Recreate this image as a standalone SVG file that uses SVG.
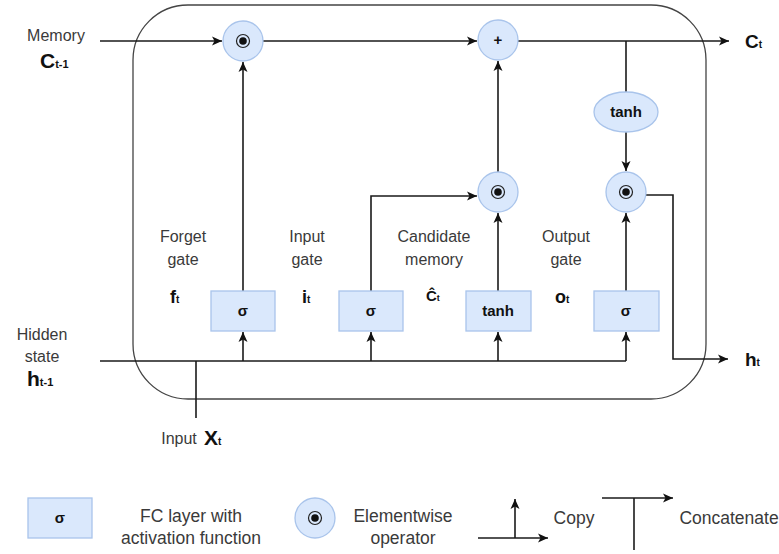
<svg xmlns="http://www.w3.org/2000/svg" width="779" height="554" viewBox="0 0 779 554">
<style>
.ln{fill:none;stroke:#1a1a1a;stroke-width:1.6}
.arr{marker-end:url(#ah)}
.box{fill:#dae8fc;stroke:#a9c4eb;stroke-width:1.3}
.op{fill:#dae8fc;stroke:#a9c4eb;stroke-width:1.3}
.t{font-family:"Liberation Sans",Arial,sans-serif;font-size:16px;fill:#3a3a3a;text-anchor:middle}
.lg{font-size:17.5px}
.b{font-family:"Liberation Sans",Arial,sans-serif;font-weight:bold;fill:#111}
.bt{font-family:"Liberation Sans",Arial,sans-serif;font-weight:bold;font-size:15px;fill:#111;text-anchor:middle}
</style>
<defs>
<marker id="ah" viewBox="0 0 10 10" refX="10" refY="5" markerWidth="10" markerHeight="10" markerUnits="userSpaceOnUse" orient="auto">
<path d="M0,0.5 L10,5 L0,9.5 L2.5,5 Z" fill="#111"/>
</marker>
<g id="dot">
<circle r="6.5" fill="none" stroke="#222" stroke-width="1.2"/>
<circle r="3.8" fill="#111"/>
</g>
</defs>
<rect x="133" y="5" width="573" height="394" rx="55" ry="55" fill="none" stroke="#444" stroke-width="1.3"/>
<g id="connectors">
<path class="ln arr" d="M100,41 H222"/>
<path class="ln arr" d="M263,41 H477"/>
<path class="ln arr" d="M518,41 H729"/>
<path class="ln arr" d="M243,291 V62"/>
<path class="ln arr" d="M371,291 V196 H477"/>
<path class="ln arr" d="M498,291 V213"/>
<path class="ln arr" d="M498,172 V61"/>
<path class="ln arr" d="M626,291 V213"/>
<path class="ln" d="M626,41 V92"/>
<path class="ln arr" d="M626,132 V171"/>
<path class="ln arr" d="M646,195 H673 V359 H728"/>
<path class="ln" d="M100,361 H626"/>
<path class="ln arr" d="M243,361 V332"/>
<path class="ln arr" d="M371,361 V332"/>
<path class="ln arr" d="M498,361 V332"/>
<path class="ln arr" d="M626,361 V332"/>
<path class="ln" d="M196,361 V418"/>
</g>
<g id="forget-mul"><circle class="op" cx="243" cy="41" r="20"/><use href="#dot" x="243" y="41"/></g>
<g id="plus"><circle class="op" cx="498" cy="40" r="20"/><text class="bt" x="498" y="45" font-size="14">+</text></g>
<g id="cand-mul"><circle class="op" cx="498" cy="192" r="20"/><use href="#dot" x="498" y="192"/></g>
<g id="out-mul"><circle class="op" cx="626" cy="192" r="20"/><use href="#dot" x="626" y="192"/></g>
<g id="tanh-ell"><ellipse class="op" cx="626" cy="112" rx="32" ry="20"/><text class="bt" x="626" y="117">tanh</text></g>
<g id="forget-box"><rect class="box" x="211" y="291" width="64" height="40"/><text class="bt" x="243" y="316">σ</text></g>
<g id="input-box"><rect class="box" x="339" y="291" width="64" height="40"/><text class="bt" x="371" y="316">σ</text></g>
<g id="cand-box"><rect class="box" x="466" y="291" width="65" height="40"/><text class="bt" x="498" y="316">tanh</text></g>
<g id="output-box"><rect class="box" x="594" y="291" width="65" height="40"/><text class="bt" x="626" y="316">σ</text></g>
<g id="labels">
<text class="t" x="56" y="41">Memory</text>
<text class="b" x="40" y="68" font-size="21">C<tspan font-size="11">t-1</tspan></text>
<text class="b" x="745" y="48" font-size="19">C<tspan font-size="10">t</tspan></text>
<text class="t" x="42" y="340">Hidden</text>
<text class="t" x="42" y="362">state</text>
<text class="b" x="27" y="386" font-size="21">h<tspan font-size="11">t-1</tspan></text>
<text class="b" x="745" y="366" font-size="19">h<tspan font-size="10">t</tspan></text>
<text class="t" x="179" y="444">Input</text>
<text class="b" x="204" y="445" font-size="21">X<tspan font-size="10">t</tspan></text>
<text class="t" x="183" y="242">Forget</text>
<text class="t" x="183" y="265">gate</text>
<text class="b" x="170" y="303" font-size="18">f<tspan font-size="10">t</tspan></text>
<text class="t" x="307" y="242">Input</text>
<text class="t" x="307" y="265">gate</text>
<text class="b" x="302" y="303" font-size="18">i<tspan font-size="10">t</tspan></text>
<text class="t" x="434" y="242">Candidate</text>
<text class="t" x="434" y="265">memory</text>
<text class="b" x="426" y="301" font-size="15">Ĉ<tspan font-size="9">t</tspan></text>
<text class="t" x="566" y="242">Output</text>
<text class="t" x="566" y="265">gate</text>
<text class="b" x="555" y="303" font-size="18">o<tspan font-size="10">t</tspan></text>
</g>
<g id="legend">
<g id="legend-box"><rect class="box" x="28" y="498" width="64" height="40"/><text class="bt" x="60" y="523">σ</text></g>
<text class="t lg" x="191" y="522">FC  layer with</text>
<text class="t lg" x="191" y="544">activation function</text>
<g id="legend-op"><circle class="op" cx="315" cy="518" r="20"/><use href="#dot" x="315" y="518"/></g>
<text class="t lg" x="403" y="522">Elementwise</text>
<text class="t lg" x="403" y="544">operator</text>
<path class="ln arr" d="M478,538 H548"/>
<path class="ln arr" d="M515,538 V499"/>
<text class="t lg" x="574" y="524">Copy</text>
<path class="ln arr" d="M602,498 H673"/>
<path class="ln" d="M634,498 V550"/>
<text class="t lg" x="729" y="524">Concatenate</text>
</g>
</svg>
